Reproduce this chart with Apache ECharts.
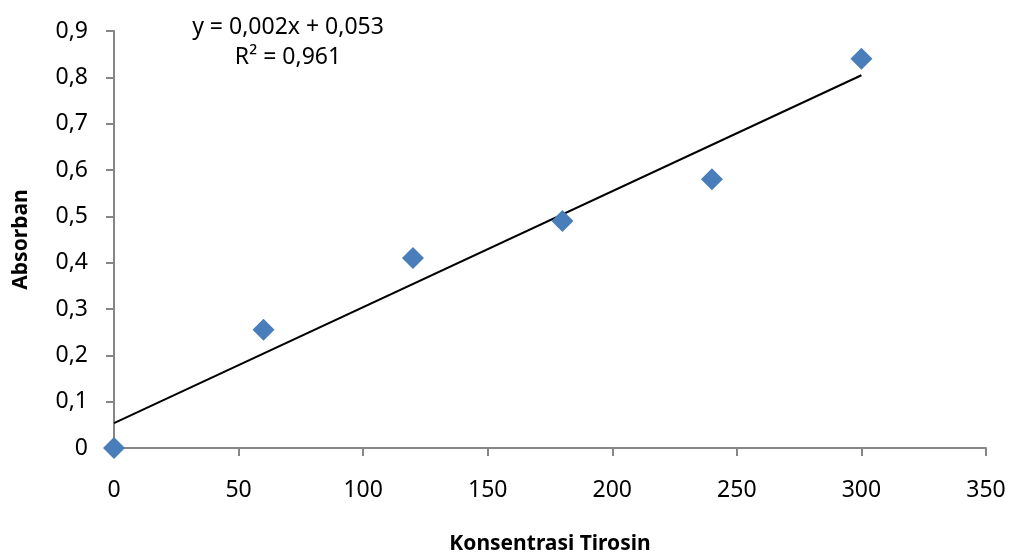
<!DOCTYPE html>
<html><head><meta charset="utf-8">
<script src="https://cdn.jsdelivr.net/npm/echarts@6/dist/echarts.min.js"></script>
<style>html,body{margin:0;padding:0;background:#fff}#c{width:1009px;height:553px}</style>
</head><body><div id="c"></div>
<script>
const concentrations = [0, 60, 120, 180, 240, 300];
const absorbance = [0, 0.255, 0.41, 0.49, 0.58, 0.84];
const equationLines = ['y = 0,002x + 0,053', 'R² = 0,961'];
const xTitle = 'Konsentrasi Tirosin';
const yTitle = 'Absorban';

// least-squares trendline from data
const n = concentrations.length;
const mx = concentrations.reduce((a,b)=>a+b,0)/n;
const my = absorbance.reduce((a,b)=>a+b,0)/n;
let sxy=0, sxx=0;
for (let i=0;i<n;i++){ sxy+=(concentrations[i]-mx)*(absorbance[i]-my); sxx+=(concentrations[i]-mx)**2; }
const slope = sxy/sxx, intercept = my - slope*mx;
const xMin = Math.min(...concentrations), xMax = Math.max(...concentrations);
const trend = [[xMin, intercept + slope*xMin],[xMax, intercept + slope*xMax]];

const font = 'Noto Sans, Open Sans, sans-serif';
const chart = echarts.init(document.getElementById('c'));
chart.setOption({
  animation:false,
  grid:{left:114,right:23,top:31,bottom:105,containLabel:false,outerBoundsMode:'none'},
  xAxis:{type:'value',min:0,max:350,interval:50,
    axisLine:{show:true,onZero:false,lineStyle:{color:'#868686',width:2}},
    axisTick:{show:true,length:8,lineStyle:{color:'#868686',width:2}},
    splitLine:{show:false},
    axisLabel:{color:'#000',fontSize:23,fontFamily:font,margin:31},
    name:xTitle,nameLocation:'middle',nameGap:86,
    nameTextStyle:{color:'#000',fontSize:21,fontWeight:'bold',fontFamily:font}},
  yAxis:{type:'value',min:0,max:0.9,interval:0.1,
    axisLine:{show:true,lineStyle:{color:'#868686',width:2}},
    axisTick:{show:true,length:8,lineStyle:{color:'#868686',width:2}},
    splitLine:{show:false},
    axisLabel:{color:'#000',fontSize:23,fontFamily:font,margin:26,
      formatter:v=>String(Math.round(v*10)/10).replace('.',',')},
    name:yTitle,nameLocation:'middle',nameGap:82,nameRotate:90,
    nameTextStyle:{color:'#000',fontSize:21,fontWeight:'bold',fontFamily:font}},
  graphic:[
    {type:'text',x:288,y:27,style:{text:equationLines[0],fill:'#000',font:'23px '+font,textAlign:'center',textVerticalAlign:'middle'}},
    {type:'text',x:288,y:57,style:{text:equationLines[1],fill:'#000',font:'23px '+font,textAlign:'center',textVerticalAlign:'middle'}}
  ],
  series:[
    {type:'line',data:trend,symbol:'none',lineStyle:{color:'#000',width:2},z:2,silent:true},
    {type:'scatter',data:concentrations.map((x,i)=>[x,absorbance[i]]),symbol:'diamond',symbolSize:[22,22],
      itemStyle:{color:'#4A7EBB',opacity:1},z:3}
  ]
});
</script></body></html>
